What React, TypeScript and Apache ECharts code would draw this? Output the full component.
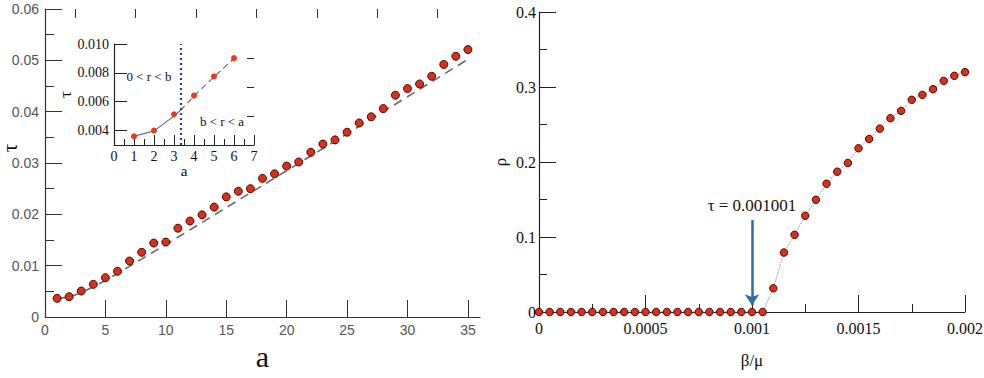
import { useEffect, useRef } from 'react';
import * as echarts from 'echarts';

// ---- Left main panel: tau vs a ----
const aValues = [1, 2, 3, 4, 5, 6, 7, 8, 9, 10, 11, 12, 13, 14, 15, 16, 17, 18, 19, 20, 21, 22, 23, 24, 25, 26, 27, 28, 29, 30, 31, 32, 33, 34, 35];
const tauValues = [0.00364, 0.00396, 0.00506, 0.00636, 0.00766, 0.0089, 0.0109, 0.0126, 0.0144, 0.0146, 0.0173, 0.0187, 0.0199, 0.0214, 0.0234, 0.0245, 0.025, 0.027, 0.0279, 0.0294, 0.0302, 0.0321, 0.0337, 0.0345, 0.036, 0.0378, 0.039, 0.0406, 0.0432, 0.0445, 0.0454, 0.0469, 0.0492, 0.0508, 0.0521];
const fitA = [1, 2, 3, 5, 10, 15, 20, 25, 30, 35];
const fitTau = [0.0036, 0.0039, 0.0047, 0.0071, 0.0141, 0.0213, 0.0285, 0.0357, 0.0429, 0.0502];
const leftXMajor = [0, 5, 10, 15, 20, 25, 30, 35];
const leftXMinor = [2.5, 7.5, 12.5, 17.5, 22.5, 27.5, 32.5];
const leftYName = 'τ';

// ---- Inset ----
const insetA = [1, 2, 3, 4, 5, 6];
const insetTau = [0.0036, 0.004, 0.00513, 0.00642, 0.00775, 0.00902];
const insetSolidA = [1, 2, 3, 3.33];
const insetSolidTau = [0.0036, 0.00398, 0.005, 0.0054];
const insetDashA = [3.33, 4, 5, 6];
const insetDashTau = [0.0054, 0.0064, 0.00772, 0.009];
const boundaryA = 3.33;
const insetYMajor = [0.004, 0.006, 0.008, 0.01];
const insetYMinor = [0.005, 0.007, 0.009];
const regionLabels = [
  { text: '0 < r < b', a: 1.75, tau: 0.00773 },
  { text: 'b < r < a', a: 5.4, tau: 0.0046 },
];

// ---- Right panel: rho vs beta/mu ----
const betaValues = [0, 0.00005, 0.0001, 0.00015, 0.0002, 0.00025, 0.0003, 0.00035, 0.0004, 0.00045, 0.0005, 0.00055, 0.0006, 0.00065, 0.0007, 0.00075, 0.0008, 0.00085, 0.0009, 0.00095, 0.001, 0.00105, 0.0011, 0.00115, 0.0012, 0.00125, 0.0013, 0.00135, 0.0014, 0.00145, 0.0015, 0.00155, 0.0016, 0.00165, 0.0017, 0.00175, 0.0018, 0.00185, 0.0019, 0.00195, 0.002];
const rhoValues = [0, 0, 0, 0, 0, 0, 0, 0, 0, 0, 0, 0, 0, 0, 0, 0, 0, 0, 0, 0, 0, 0, 0.0316, 0.0793, 0.1029, 0.1283, 0.1497, 0.171, 0.1871, 0.1987, 0.2183, 0.2307, 0.2445, 0.2584, 0.2682, 0.2829, 0.2895, 0.2971, 0.3082, 0.3149, 0.3198];
const thresholdBeta = 0.001;
const arrowTop = 0.1225;
const arrowBottom = 0.009;
const thresholdLabel = 'τ = 0.001001';

const SERIF = 'Liberation Serif, serif';
const SANS = 'Liberation Sans, sans-serif';
const RED = '#d8301c';
const RED_BORDER = '#4a0c04';

export default function App() {
  const ref = useRef<HTMLDivElement>(null);
  useEffect(() => {
    if (!ref.current) return;
    const chart = echarts.init(ref.current, undefined, { renderer: 'svg' });
    const zip = (xs: number[], ys: number[]) => xs.map((x, i) => [x, ys[i]]);
    const option: any = {
      animation: false,
      backgroundColor: '#ffffff',
      grid: [
        { left: 45, top: 9, width: 435, height: 308, containLabel: false, outerBoundsMode: 'none' },
        { left: 114, top: 44, width: 140, height: 101, containLabel: false, outerBoundsMode: 'none' },
        { left: 539, top: 12, width: 426, height: 300, containLabel: false, outerBoundsMode: 'none' },
      ],
      graphic: [
        {
          type: 'text', x: 9, y: 148, rotation: Math.PI / 2,
          style: {
            text: leftYName, fontFamily: SERIF, fontSize: 22, fill: '#111',
            align: 'center', verticalAlign: 'middle',
          },
        },
      ],
      xAxis: [
        {
          gridIndex: 0, type: 'value', min: 0, max: 36,
          name: 'a', nameLocation: 'middle', nameGap: 20,
          nameTextStyle: { fontFamily: SERIF, fontSize: 30, color: '#111' },
          axisLine: { lineStyle: { color: '#333', width: 1.2 } },
          axisTick: { inside: true, length: 17, customValues: leftXMajor, lineStyle: { color: '#333' } },
          axisLabel: { customValues: leftXMajor, color: '#555', fontFamily: SANS, fontSize: 14, margin: 6 },
          splitLine: { show: false },
        },
        {
          gridIndex: 0, type: 'value', min: 0, max: 36,
          axisLine: { show: false },
          axisTick: { inside: true, length: 9, customValues: leftXMinor, lineStyle: { color: '#333' } },
          axisLabel: { show: false },
          splitLine: { show: false },
        },
        {
          gridIndex: 1, type: 'value', min: 0, max: 7, interval: 1,
          name: 'a', nameLocation: 'middle', nameGap: 16,
          nameTextStyle: { fontFamily: SERIF, fontSize: 15, color: '#111' },
          axisLine: { lineStyle: { color: '#222', width: 1.2 } },
          axisTick: { inside: true, length: 10, lineStyle: { color: '#222' } },
          minorTick: { show: true, splitNumber: 2, length: 6, lineStyle: { color: '#222' } },
          axisLabel: { color: '#111', fontFamily: SERIF, fontSize: 14, margin: 4 },
          splitLine: { show: false },
          minorSplitLine: { show: false },
        },
        {
          gridIndex: 2, type: 'value', min: 0, max: 0.002, interval: 0.0005,
          name: 'β/μ', nameLocation: 'middle', nameGap: 40,
          nameTextStyle: { fontFamily: SERIF, fontSize: 17, color: '#111' },
          axisLine: { lineStyle: { color: '#222', width: 1.2 } },
          axisTick: { inside: true, length: 17, lineStyle: { color: '#222' } },
          minorTick: { show: true, splitNumber: 2, length: 8, lineStyle: { color: '#222' } },
          axisLabel: {
            color: '#111', fontFamily: SERIF, fontSize: 16, margin: 8,
            formatter: (v: number) => String(+v.toFixed(5)),
          },
          splitLine: { show: false },
          minorSplitLine: { show: false },
        },
      ],
      yAxis: [
        {
          gridIndex: 0, type: 'value', min: 0, max: 0.06, interval: 0.01,
          axisLine: { show: true, lineStyle: { color: '#333', width: 1.2 } },
          axisTick: { show: true, inside: true, length: 17, lineStyle: { color: '#333' } },
          minorTick: { show: true, splitNumber: 2, length: 9, lineStyle: { color: '#333' } },
          axisLabel: {
            color: '#555', fontFamily: SANS, fontSize: 14, margin: 6,
            formatter: (v: number) => (v === 0 ? '0' : v.toFixed(2)),
          },
          splitLine: { show: false },
          minorSplitLine: { show: false },
        },
        {
          gridIndex: 1, type: 'value', min: 0.003, max: 0.01,
          name: 'τ', nameLocation: 'middle', nameGap: 40,
          nameTextStyle: { fontFamily: SERIF, fontSize: 17, color: '#111' },
          axisLine: { show: true, lineStyle: { color: '#222', width: 1.2 } },
          axisTick: { show: true, inside: true, length: 13, customValues: insetYMajor, lineStyle: { color: '#222' } },
          axisLabel: {
            customValues: insetYMajor, color: '#111', fontFamily: SERIF, fontSize: 14, margin: 5,
            formatter: (v: number) => v.toFixed(3),
          },
          splitLine: { show: false },
        },
        {
          gridIndex: 1, type: 'value', min: 0.003, max: 0.01,
          axisLine: { show: false },
          axisTick: { show: true, inside: true, length: 7, customValues: insetYMinor, lineStyle: { color: '#222' } },
          axisLabel: { show: false },
          splitLine: { show: false },
        },
        {
          gridIndex: 2, type: 'value', min: 0, max: 0.4, interval: 0.1,
          name: 'ρ', nameLocation: 'middle', nameGap: 30,
          nameTextStyle: { fontFamily: SERIF, fontSize: 17, color: '#111' },
          axisLine: { show: true, lineStyle: { color: '#222', width: 1.2 } },
          axisTick: { show: true, inside: true, length: 17, lineStyle: { color: '#222' } },
          minorTick: { show: true, splitNumber: 2, length: 8, lineStyle: { color: '#222' } },
          axisLabel: {
            color: '#111', fontFamily: SERIF, fontSize: 16, margin: 3,
            formatter: (v: number) => (v === 0 ? '0' : v.toFixed(1)),
          },
          splitLine: { show: false },
          minorSplitLine: { show: false },
        },
      ],
      series: [
        {
          type: 'line', xAxisIndex: 0, yAxisIndex: 0, data: zip(fitA, fitTau),
          showSymbol: false, symbol: 'none',
          lineStyle: { color: '#6a6a6a', width: 1.6, type: [9, 6] },
          z: 2,
        },
        {
          type: 'scatter', xAxisIndex: 0, yAxisIndex: 0, data: zip(aValues, tauValues),
          symbolSize: 8,
          itemStyle: { color: RED, borderColor: RED_BORDER, borderWidth: 1, opacity: 1 },
          z: 3,
        },
        {
          type: 'line', xAxisIndex: 2, yAxisIndex: 1, data: zip(insetSolidA, insetSolidTau),
          showSymbol: false, symbol: 'none',
          lineStyle: { color: '#666', width: 1.1 },
        },
        {
          type: 'line', xAxisIndex: 2, yAxisIndex: 1, data: zip(insetDashA, insetDashTau),
          showSymbol: false, symbol: 'none',
          lineStyle: { color: '#666', width: 1.1, type: [6, 4] },
        },
        {
          type: 'scatter', xAxisIndex: 2, yAxisIndex: 1, data: zip(insetA, insetTau),
          symbolSize: 6,
          itemStyle: { color: '#e8381f', opacity: 1 },
          z: 4,
          markLine: {
            silent: true, symbol: 'none',
            label: { show: false },
            lineStyle: { color: '#2a3d9e', width: 2.2, type: [2, 3] },
            data: [{ xAxis: boundaryA }],
          },
          markPoint: {
            silent: true, symbol: 'rect', symbolSize: 0,
            label: { show: true, position: 'inside', fontFamily: SERIF, fontSize: 13, color: '#111' },
            data: regionLabels.map((r) => ({ coord: [r.a, r.tau], value: r.text, label: { formatter: r.text } })),
          },
        },
        {
          type: 'line', xAxisIndex: 3, yAxisIndex: 3, data: zip(betaValues, rhoValues),
          showSymbol: false, symbol: 'none',
          lineStyle: { color: '#888', width: 1, type: 'dotted' },
          z: 2,
        },
        {
          type: 'scatter', xAxisIndex: 3, yAxisIndex: 3, data: zip(betaValues, rhoValues),
          symbolSize: 7.5,
          itemStyle: { color: RED, borderColor: RED_BORDER, borderWidth: 1, opacity: 1 },
          z: 3,
          markLine: {
            silent: true,
            symbol: ['none', 'arrow'],
            symbolSize: 11,
            lineStyle: { color: '#2c6ea8', width: 2.5, type: 'solid' },
            label: {
              show: true, position: 'start', distance: 6, formatter: thresholdLabel,
              fontFamily: SERIF, fontSize: 17, color: '#111',
            },
            data: [[{ coord: [thresholdBeta, arrowTop] }, { coord: [thresholdBeta, arrowBottom] }]],
          },
        },
      ],
    };
    chart.setOption(option);
    return () => chart.dispose();
  }, []);
  return <div ref={ref} style={{ position: 'fixed', left: 0, top: 0, width: 984, height: 378 }} />;
}
